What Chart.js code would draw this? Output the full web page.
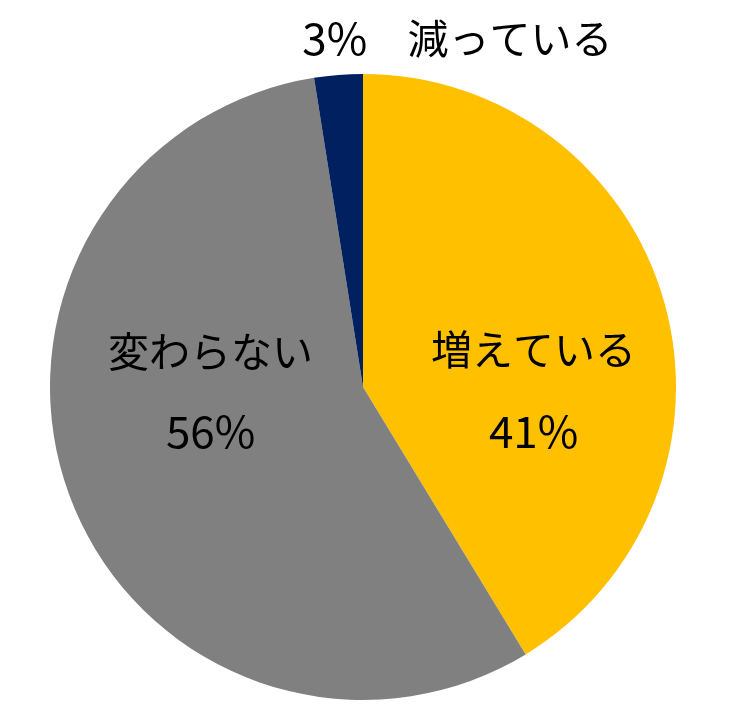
<!DOCTYPE html>
<html><head><meta charset="utf-8">
<script src="https://cdn.jsdelivr.net/npm/chart.js@4"></script>
<style>html,body{margin:0;padding:0;background:#fff;}canvas{display:block;}</style>
</head><body>
<canvas id="c" width="741" height="723"></canvas>
<script>
const categories = ['増えている', '変わらない', '減っている'];
const values = [41.3, 56.2, 2.5];
const valueLabels = ['41%', '56%', '3%'];
const colors = ['#FFC000', '#808080', '#002060'];

const FONT = '"Noto Sans CJK JP", "Noto Sans", sans-serif';

const labelPlugin = {
  id: 'sliceLabels',
  afterDatasetsDraw(chart) {
    const ctx = chart.ctx;
    const meta = chart.getDatasetMeta(0);
    const a0 = meta.data[0];
    const cx = a0.x, cy = a0.y, r = a0.outerRadius;
    ctx.save();
    ctx.fillStyle = '#000';
    ctx.textAlign = 'center';
    ctx.textBaseline = 'middle';
    const catFont = '41px ' + FONT;
    const numFont = '44px ' + FONT;
    // 増えている (inside yellow)
    ctx.font = catFont;
    ctx.fillText(categories[0], cx + 0.545 * r, cy - 0.12 * r);
    ctx.font = numFont;
    ctx.fillText(valueLabels[0], cx + 0.545 * r, cy + 0.14 * r);
    // 変わらない (inside gray)
    ctx.font = catFont;
    ctx.fillText(categories[1], cx - 0.487 * r, cy - 0.115 * r);
    ctx.font = numFont;
    ctx.fillText(valueLabels[1], cx - 0.487 * r, cy + 0.14 * r);
    // 減っている (outside top)
    ctx.font = numFont;
    ctx.fillText(valueLabels[2], cx - 0.09 * r, cy - 1.115 * r);
    ctx.font = catFont;
    ctx.fillText(categories[2], cx + 0.47 * r, cy - 1.115 * r);
    ctx.restore();
  }
};

new Chart(document.getElementById('c'), {
  type: 'pie',
  data: {
    labels: categories,
    datasets: [{ data: values, backgroundColor: colors, borderWidth: 0 }]
  },
  options: {
    responsive: false,
    animation: false,
    layout: { padding: { top: 74, bottom: 23, left: 50, right: 65 } },
    plugins: { legend: { display: false }, tooltip: { enabled: false } }
  },
  plugins: [labelPlugin]
});
</script>
</body></html>
